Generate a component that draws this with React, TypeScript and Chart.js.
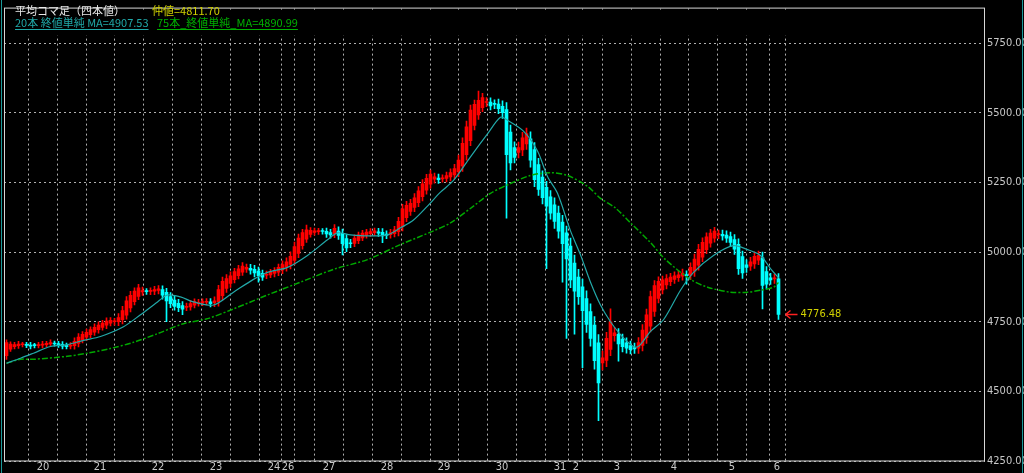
import React, { useEffect, useRef } from 'react';
import { Chart, registerables } from 'chart.js';

Chart.register(...registerables);

// ---- Data (Heikin-Ashi close per candle) ----
const firstOpen = 4628;
const haClose: number[] = [
  4675, 4670, 4668, 4670, 4668, 4665, 4662, 4664, 4668, 4670,
  4672, 4675, 4670, 4666, 4662, 4660, 4665, 4680, 4695, 4705,
  4712, 4722, 4730, 4738, 4745, 4752, 4755, 4750, 4765, 4790,
  4825, 4845, 4860, 4872, 4862, 4858, 4860, 4865, 4868, 4845,
  4825, 4815, 4805, 4800, 4795, 4805, 4815, 4822, 4820, 4822,
  4823, 4815, 4825, 4865, 4895, 4905, 4915, 4930, 4940, 4950,
  4945, 4935, 4925, 4915, 4910, 4920, 4928, 4932, 4945, 4955,
  4965, 4985, 5020, 5050, 5070, 5080, 5078, 5076, 5075, 5074,
  5065, 5062, 5085, 5060, 5030, 5015, 5030, 5050, 5062, 5068,
  5072, 5074, 5076, 5068, 5058, 5060, 5070, 5080, 5110, 5155,
  5168, 5175, 5195, 5220, 5245, 5265, 5280, 5270, 5260, 5265,
  5275, 5285, 5300, 5330, 5390, 5450, 5510, 5530, 5545, 5555,
  5540, 5525, 5530, 5515, 5500, 5350, 5320, 5340, 5375, 5410,
  5425, 5330, 5260, 5225, 5195, 5165, 5140, 5110, 5075, 5030,
  4975, 4900, 4860, 4840, 4790, 4740, 4690, 4610, 4530, 4620,
  4690, 4750, 4710, 4670, 4660, 4655, 4650, 4652, 4675, 4720,
  4775, 4840, 4880, 4895, 4900, 4905, 4910, 4915, 4918, 4925,
  4915, 4945, 4975, 5010, 5035, 5055, 5068, 5075, 5065, 5058,
  5050, 5035, 5010, 4940, 4925, 4945, 4965, 4985, 4988, 4880,
  4885, 4900, 4905, 4776.48,
];

// typical wick length above / below each body (price units)
const wickSize: number[] = [
  10, 8, 8, 10, 8, 8, 10, 8, 8, 10,
  8, 10, 8, 8, 10, 8, 10, 12, 12, 10,
  12, 10, 12, 12, 10, 12, 10, 12, 14, 15,
  15, 14, 12, 12, 12, 10, 12, 12, 12, 14,
  15, 15, 14, 14, 14, 12, 12, 10, 10, 10,
  10, 12, 14, 16, 15, 14, 14, 12, 12, 12,
  12, 14, 14, 14, 12, 12, 10, 12, 12, 14,
  14, 16, 16, 15, 12, 12, 10, 10, 10, 10,
  12, 12, 14, 15, 15, 14, 14, 12, 10, 10,
  10, 10, 10, 12, 14, 12, 12, 12, 15, 16,
  14, 14, 15, 15, 15, 14, 14, 14, 14, 12,
  12, 14, 15, 18, 20, 20, 18, 16, 16, 15,
  15, 15, 15, 18, 20, 25, 25, 20, 20, 20,
  20, 25, 25, 22, 22, 22, 22, 25, 25, 25,
  25, 28, 28, 28, 28, 28, 28, 30, 30, 25,
  22, 22, 20, 20, 18, 18, 16, 16, 18, 20,
  20, 20, 18, 16, 14, 14, 14, 14, 14, 14,
  14, 16, 18, 18, 16, 14, 14, 14, 14, 15,
  15, 16, 18, 20, 20, 18, 16, 16, 16, 20,
  18, 16, 16, 18,
];

// [candle index, wick high, wick low] – long spikes
const wickSpikes: [number, number | null, number | null][] = [
  [0, null, 4615], [33, 4880, null], [40, null, 4750], [44, null, 4775],
  [59, 4958, null], [63, null, 4892], [75, 5097, null], [84, null, 4990],
  [94, null, 5034], [106, 5292, null], [118, 5578, null], [124, 5541, null],
  [125, null, 5122], [130, 5440, null], [135, null, 4940], [139, null, 4892],
  [140, null, 4690], [142, null, 4705], [144, null, 4585], [148, null, 4395],
  [151, 4796, null], [153, null, 4608], [170, null, 4885], [177, 5085, null],
  [184, null, 4910], [189, null, 4796],
];

// [candle index, MA value]
const ma20Points: [number, number][] = [
  [0, 4601], [3.5, 4619], [6.75, 4637], [11, 4661], [15.25, 4668], [19.25, 4683],
  [23.5, 4697], [29.25, 4732], [33.5, 4775], [37.75, 4821], [40.25, 4846], [43.5, 4839],
  [46.75, 4821], [51.75, 4810], [56.75, 4856], [61.75, 4902], [65.25, 4927], [70.25, 4945],
  [75.25, 4988], [80.25, 5044], [82.75, 5069], [86, 5062], [90.25, 5058], [95.25, 5062],
  [98.5, 5087], [101.75, 5115], [105.25, 5165], [108.5, 5215], [111.75, 5257], [116, 5342],
  [120.25, 5424], [123.5, 5484], [125.25, 5473], [129.25, 5434], [132.75, 5363], [135.25, 5271],
  [137.75, 5211], [141, 5076], [143.5, 4990], [146, 4892], [148.5, 4810], [151, 4750],
  [153.5, 4704], [156, 4668], [157.25, 4658], [158.5, 4668], [161, 4715], [164.25, 4757],
  [168.5, 4863], [171.75, 4927], [176.75, 4988], [181.75, 5023], [185.25, 5009], [188.5, 4988],
  [191, 4941], [193, 4907.53],
];

const ma75Points: [number, number][] = [
  [0, 4601], [3.5, 4615], [6.75, 4615], [15.25, 4626], [20.25, 4637], [26, 4654],
  [31.75, 4676], [37.75, 4707], [44.25, 4743], [50.25, 4761], [56.75, 4796], [65.25, 4846],
  [73.5, 4892], [81.75, 4938], [90.25, 4973], [98.5, 5027], [106.75, 5076], [111, 5105],
  [116.75, 5165], [121, 5211], [126, 5246], [131, 5275], [136, 5285], [140.25, 5275],
  [145.25, 5236], [148.5, 5193], [152.25, 5158], [156, 5105], [161, 5034], [164.75, 4973],
  [171, 4902], [175.25, 4874], [181, 4856], [185.25, 4856], [188.5, 4863], [191.75, 4874],
  [193, 4890.99],
];

const yTicks = [4250, 4500, 4750, 5000, 5250, 5500, 5750];
const gridTicks = [
  1.875, 9.125, 16.375, 23.375, 30.625, 37.875, 45.125, 52.375, 59.625, 66.875,
  70.375, 73.375, 80.625, 87.875, 95.125, 102.375, 109.375, 116.625, 123.875, 131.125,
  138.375, 142.375, 145.375, 152.625, 159.875, 166.875, 174.125, 181.375, 188.625, 192.625,
];
const gridLabels = [
  '', '20', '', '21', '', '22', '', '23', '', '24',
  '26', '', '27', '', '28', '', '29', '', '30', '',
  '31', '2', '', '3', '', '4', '', '5', '', '6',
];

const titleText = '平均コマ足（四本値）';
const midText = '仲値=4811.70';
const ma20Text = '20本 終値単純 MA=4907.53';
const ma75Text = '75本_終値単純_MA=4890.99';

const AXIS_FONT = "'Liberation Sans Narrow', 'DejaVu Sans Condensed', sans-serif";
const UP = '#ff0000';
const DOWN = '#00ffff';

export default function App() {
  const ref = useRef<HTMLCanvasElement | null>(null);

  useEffect(() => {
    if (!ref.current) return;
    const haOpen: number[] = [];
    haClose.forEach((c, i) => {
      haOpen.push(i === 0 ? firstOpen : (haOpen[i - 1] + haClose[i - 1]) / 2);
    });
    const spikeMap = new Map<number, [number, number | null, number | null]>();
    wickSpikes.forEach((s) => spikeMap.set(s[0], s));
    const candles = haClose.map((c, i) => {
      const o = haOpen[i];
      const w = wickSize[i] ?? 0;
      let hi = Math.max(o, c) + w;
      let lo = Math.min(o, c) - w;
      const s = spikeMap.get(i);
      if (s) {
        if (s[1] != null) hi = Math.max(hi, s[1]);
        if (s[2] != null) lo = Math.min(lo, s[2]);
      }
      return { o, c, hi, lo, up: c >= o };
    });
    const colors = candles.map((k) => (k.up ? UP : DOWN));
    const lastClose = haClose[haClose.length - 1];

    const overlay = {
      id: 'overlay',
      beforeDraw(chart: any) {
        const { ctx, width, height } = chart;
        ctx.save();
        ctx.fillStyle = '#000';
        ctx.fillRect(0, 0, width, height);
        ctx.restore();
      },
      beforeDatasetsDraw(chart: any) {
        const { ctx, chartArea } = chart;
        ctx.save();
        ctx.fillStyle = '#000';
        ctx.fillRect(chartArea.left + 1, chartArea.top + 1, chartArea.right - chartArea.left - 2, 26);
        ctx.restore();
      },
      afterDraw(chart: any) {
        const { ctx, chartArea, width, height } = chart;
        ctx.save();
        ctx.strokeStyle = '#d8d8d8';
        ctx.lineWidth = 1;
        ctx.strokeRect(chartArea.left + 0.5, chartArea.top - 0.5, chartArea.right - chartArea.left - 1, chartArea.bottom - chartArea.top + 0.5);
        ctx.strokeStyle = '#1a9a9a';
        ctx.beginPath();
        ctx.moveTo(1.5, 0); ctx.lineTo(1.5, height);
        ctx.moveTo(width - 1.5, 0); ctx.lineTo(width - 1.5, height);
        ctx.stroke();

        ctx.font = "11px 'Noto Sans CJK JP'";
        ctx.textBaseline = 'middle';
        ctx.textAlign = 'left';
        ctx.fillStyle = '#e8e8e8';
        ctx.fillText(titleText, 15, 11);
        ctx.fillStyle = '#d2d200';
        ctx.fillText(midText, 152, 11);
        ctx.fillStyle = '#20a8a8';
        ctx.fillText(ma20Text, 15, 23);
        let w = ctx.measureText(ma20Text).width;
        ctx.strokeStyle = '#20a8a8';
        ctx.beginPath(); ctx.moveTo(15, 29.5); ctx.lineTo(15 + w, 29.5); ctx.stroke();
        ctx.fillStyle = '#00b000';
        ctx.fillText(ma75Text, 157, 23);
        w = ctx.measureText(ma75Text).width;
        ctx.strokeStyle = '#00b000';
        ctx.beginPath(); ctx.moveTo(157, 29.5); ctx.lineTo(157 + w, 29.5); ctx.stroke();

        const xs = chart.scales.x;
        const ys = chart.scales.y;
        const py = Math.round(ys.getPixelForValue(lastClose)) + 0.5;
        const px = xs.getPixelForValue(haClose.length - 1) + 7;
        ctx.strokeStyle = '#ff2020';
        ctx.lineWidth = 1.5;
        ctx.beginPath();
        ctx.moveTo(px, py); ctx.lineTo(px + 12, py);
        ctx.moveTo(px, py); ctx.lineTo(px + 5, py - 4);
        ctx.moveTo(px, py); ctx.lineTo(px + 5, py + 4);
        ctx.stroke();
        ctx.font = `11px ${AXIS_FONT}`;
        ctx.fillStyle = '#d2d200';
        ctx.fillText(lastClose.toFixed(2), px + 15, py);
        ctx.restore();
      },
    };

    const chart = new Chart(ref.current, {
      type: 'bar',
      data: {
        datasets: [
          {
            type: 'line',
            data: ma20Points.map(([x, y]) => ({ x, y })),
            borderColor: '#22a8a8',
            borderWidth: 1.2,
            pointRadius: 0,
            tension: 0.3,
            order: 1,
          } as any,
          {
            type: 'line',
            data: ma75Points.map(([x, y]) => ({ x, y })),
            borderColor: '#00a800',
            borderWidth: 1.5,
            borderDash: [6, 2, 2, 2],
            pointRadius: 0,
            tension: 0.3,
            order: 2,
          } as any,
          {
            type: 'bar',
            data: candles.map((k, i) => ({ x: i, y: [Math.min(k.o, k.c), Math.max(k.o, k.c)] })),
            backgroundColor: colors,
            barThickness: 3,
            minBarLength: 1,
            grouped: false,
            order: 3,
          } as any,
          {
            type: 'bar',
            data: candles.map((k, i) => ({ x: i, y: [k.lo, k.hi] })),
            backgroundColor: colors,
            barThickness: 1,
            grouped: false,
            order: 4,
          } as any,
        ],
      },
      options: {
        responsive: false,
        animation: false,
        events: [],
        layout: { padding: { left: 4, top: 3, right: 0, bottom: 0 } },
        plugins: { legend: { display: false }, tooltip: { enabled: false }, title: { display: false } },
        scales: {
          x: {
            type: 'linear',
            min: -0.625,
            max: 244.625,
            offset: false,
            afterBuildTicks: (s: any) => {
              s.ticks = gridTicks.map((v) => ({ value: v }));
            },
            afterFit: (s: any) => {
              s.height = 12;
            },
            ticks: {
              autoSkip: false,
              maxRotation: 0,
              minRotation: 0,
              padding: 0,
              color: '#c8c8c8',
              font: { family: AXIS_FONT, size: 11 },
              callback: (_v: any, idx: number) => gridLabels[idx],
            },
            grid: { color: '#b0b0b0', lineWidth: 1, drawTicks: false },
            border: { display: false, dash: [2, 3] },
          },
          y: {
            type: 'linear',
            position: 'right',
            min: 4250,
            max: 5874,
            afterBuildTicks: (s: any) => {
              s.ticks = yTicks.map((v) => ({ value: v }));
            },
            afterFit: (s: any) => {
              s.width = 39;
            },
            ticks: {
              padding: 2,
              color: '#c8c8c8',
              font: { family: AXIS_FONT, size: 11 },
              callback: (v: any) => Number(v).toFixed(2),
            },
            grid: { color: '#b0b0b0', lineWidth: 1, drawTicks: false },
            border: { display: false, dash: [2, 3] },
          },
        },
      } as any,
      plugins: [overlay],
    });
    return () => chart.destroy();
  }, []);

  return (
    <div style={{ position: 'fixed', left: 0, top: 0, width: 1024, height: 473, background: '#000' }}>
      <canvas ref={ref} width={1024} height={473} style={{ display: 'block' }} />
    </div>
  );
}
